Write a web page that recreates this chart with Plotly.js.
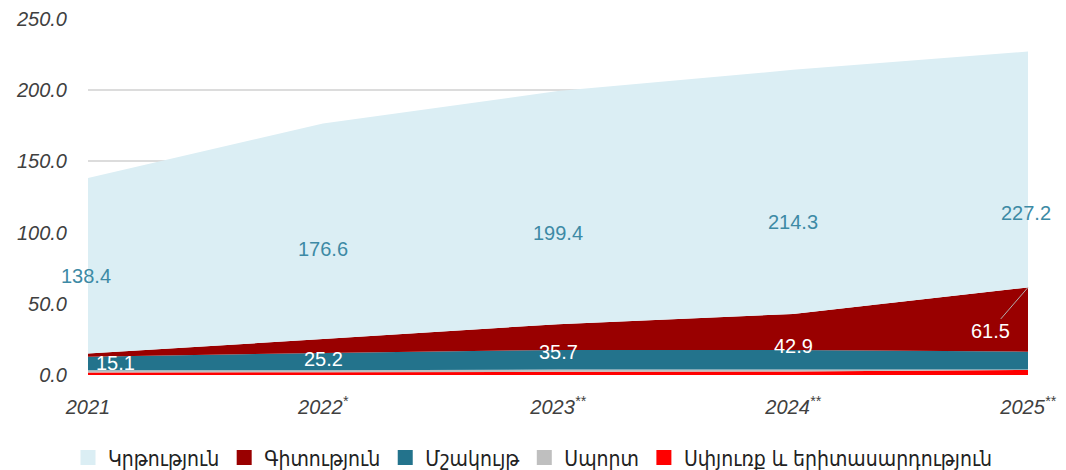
<!DOCTYPE html>
<html>
<head>
<meta charset="utf-8">
<script src="https://cdn.plot.ly/plotly-3.0.1.min.js"></script>
<style>html,body{margin:0;padding:0;background:#fff;}#chart{width:1066px;height:470px;}</style>
</head>
<body>
<div id="chart"></div>
<script>
const categories = ["2021", "2022", "2023", "2024", "2025"];
const tickLabels = ["2021", "2022<sup>*</sup>", "2023<sup>**</sup>", "2024<sup>**</sup>", "2025<sup>**</sup>"];
const seriesNames = ["Կրթություն", "Գիտություն", "Մշակույթ", "Սպորտ", "Սփյուռք և երիտասարդություն"];
const education = [123.3, 151.4, 163.7, 171.4, 165.7];
const science = [2.2, 9.7, 18.1, 25.3, 45.1];
const culture = [9.6, 12.1, 13.8, 13.8, 12.6];
const sport = [1.5, 1.4, 1.6, 1.3, 0.3];
const diaspora = [1.8, 2.0, 2.2, 2.5, 3.5];
const totalLabels = [138.4, 176.6, 199.4, 214.3, 227.2];
const otherLabels = [15.1, 25.2, 35.7, 42.9, 61.5];
const colors = ["#dbeef4", "#990000", "#23738c", "#bfbfbf", "#ff0000"];

const stackData = [diaspora, sport, culture, science, education];
const stackIdx = [4, 3, 2, 1, 0];
const traces = [];
stackData.forEach((d, i) => {
  traces.push({
    type: "scatter", x: categories, y: d, stackgroup: "one", mode: "none",
    fillcolor: colors[stackIdx[i]], showlegend: false, hoverinfo: "skip"
  });
});
seriesNames.forEach((n, i) => {
  traces.push({
    type: "scatter", x: [null], y: [null], mode: "markers", name: n,
    marker: {symbol: "square", size: 15, color: colors[i]}
  });
});

const numFont = "Liberation Sans, Arial, sans-serif";
const annotations = [];
categories.forEach((c, i) => {
  annotations.push({
    xref: "x", yref: "y", x: i, y: totalLabels[i] / 2, text: totalLabels[i].toFixed(1), showarrow: false,
    font: {family: numFont, size: 20, color: "#3d8aa5"},
    xanchor: "center", yanchor: "middle",
    xshift: (i === 0 || i === 4) ? -2 : 0
  });
  if (i === 4) {
    annotations.push({
      xref: "x", yref: "y", x: i, y: otherLabels[i], text: otherLabels[i].toFixed(1), showarrow: true,
      arrowhead: 0, arrowwidth: 1, arrowcolor: "#b0b0b0", ax: -38, ay: 44,
      font: {family: numFont, size: 20, color: "#ffffff"}
    });
  } else {
    annotations.push({
      xref: "x", yref: "y", x: i, y: otherLabels[i] / 2, text: otherLabels[i].toFixed(1), showarrow: false,
      font: {family: numFont, size: 20, color: "#ffffff"},
      xanchor: i === 0 ? "left" : "center", yanchor: "middle",
      xshift: i === 0 ? 6 : 0, yshift: i === 0 ? 1 : -2
    });
  }
});

const layout = {
  width: 1066, height: 470,
  margin: {l: 88, r: 38, t: 19, b: 95},
  paper_bgcolor: "#ffffff", plot_bgcolor: "#ffffff",
  showlegend: true,
  legend: {
    orientation: "h", traceorder: "normal",
    x: 0.5, xanchor: "center", xref: "container",
    y: 0.026, yanchor: "middle", yref: "container",
    font: {family: "DejaVu Sans Condensed, sans-serif", size: 21, color: "#222"},
    itemwidth: 30
  },
  xaxis: {
    type: "category", range: [0, 4], tickvals: categories, ticktext: tickLabels,
    showgrid: false, zeroline: false, showline: false, ticks: "",
    ticklabelstandoff: 18, automargin: false,
    tickfont: {family: numFont, size: 20, color: "#404040", style: "italic"}
  },
  yaxis: {
    range: [0, 250], tickvals: [0, 50, 100, 150, 200, 250], tickformat: ".1f",
    showgrid: true, gridcolor: "#dcdcdc", gridwidth: 2, zeroline: false, showline: false,
    ticks: "", ticklabelstandoff: 20, automargin: false,
    tickfont: {family: numFont, size: 20, color: "#404040", style: "italic"}
  },
  annotations: annotations
};

Plotly.newPlot("chart", traces, layout, {displayModeBar: false, staticPlot: true});
</script>
</body>
</html>
